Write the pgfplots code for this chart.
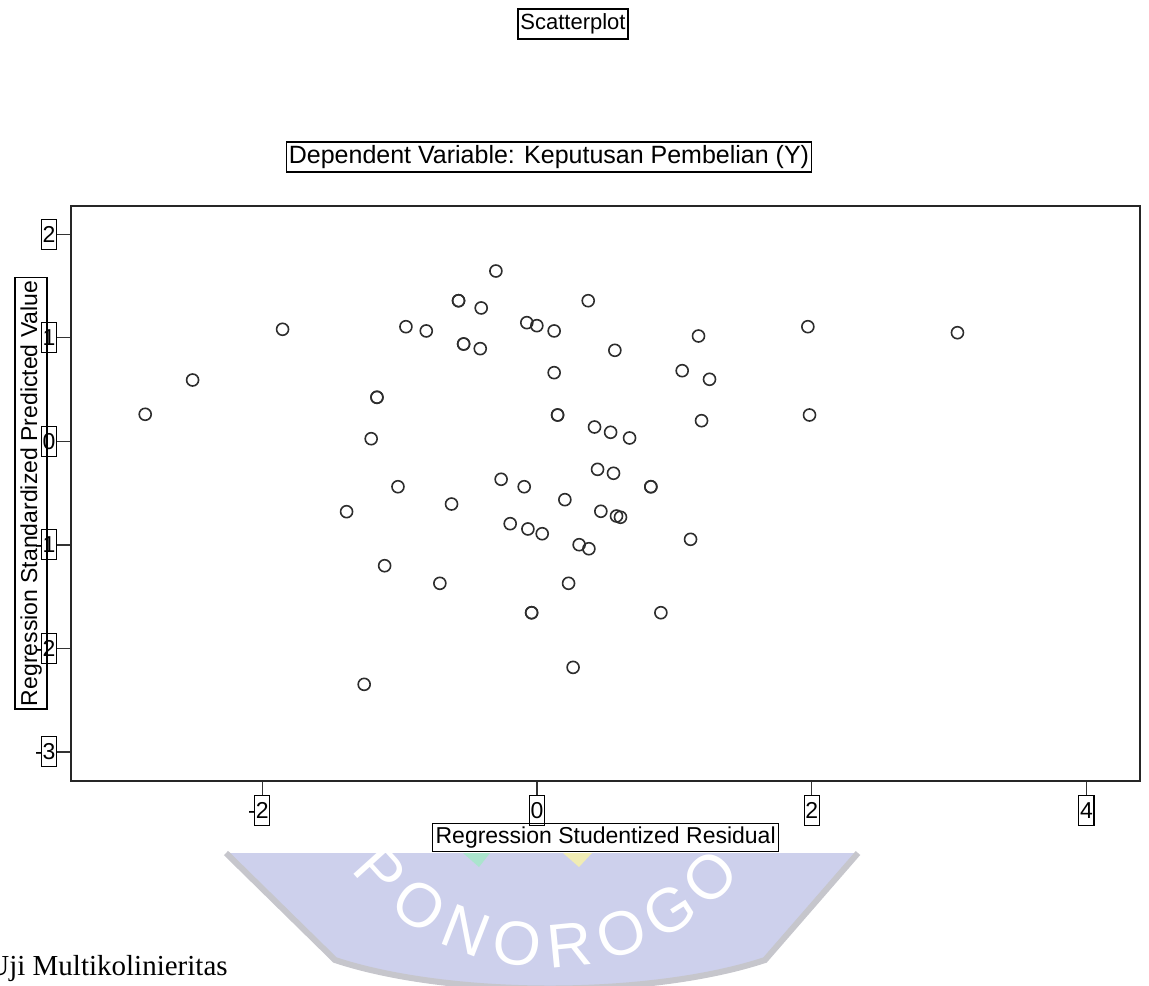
\documentclass[border=0pt]{standalone}
\usepackage{fontspec}
\setmainfont{Liberation Sans}
\newfontfamily\timesfont{Liberation Serif}
\usepackage{pgfplots}
\pgfplotsset{compat=1.18}
\definecolor{wmfill}{RGB}{205,208,236}
\definecolor{wmedge}{RGB}{198,198,204}
\definecolor{mk}{RGB}{45,45,45}
\definecolor{wmgreen}{RGB}{170,228,205}
\definecolor{wmyellow}{RGB}{240,236,180}
\newcommand\chartfont{\fontsize{11.5pt}{13pt}\selectfont}

\pgfplotstableread{
x y
-2.852 0.261
-2.507 0.592
-1.852 1.082
-0.954 1.107
-0.806 1.066
-0.571 1.358
-0.571 1.358
-0.406 1.288
-0.299 1.645
-0.074 1.146
-0.001 1.117
0.125 1.066
-0.534 0.940
-0.534 0.940
-0.413 0.895
0.125 0.663
-1.165 0.425
-1.165 0.425
0.150 0.254
0.150 0.254
-1.207 0.025
-1.012 -0.439
-0.261 -0.367
-0.093 -0.439
0.373 1.358
1.176 1.017
1.972 1.107
0.567 0.879
1.057 0.682
1.256 0.599
0.419 0.138
0.536 0.087
0.674 0.032
1.198 0.199
1.984 0.254
0.441 -0.271
0.557 -0.309
0.829 -0.439
0.829 -0.439
-1.386 -0.680
-0.622 -0.606
0.203 -0.564
-0.195 -0.796
-0.066 -0.847
0.038 -0.893
0.465 -0.676
0.579 -0.722
0.608 -0.734
0.307 -0.999
0.378 -1.038
1.118 -0.947
-1.109 -1.202
-0.707 -1.372
0.230 -1.372
-0.039 -1.656
-0.039 -1.656
0.902 -1.656
0.263 -2.184
-1.258 -2.348
3.061 1.049
}\residtable

\begin{document}
\begin{tikzpicture}
\useasboundingbox (0,0) rectangle (574.5pt,-492.5pt);
\clip (0,0) rectangle (574.5pt,-492.5pt);
% watermark (behind everything)
\begin{scope}[x=0.5pt,y=-0.5pt]
  \fill[wmfill] (226,853) -- (335,960) .. controls (450,998) and (650,998) .. (765,960) -- (858,853) -- cycle;
  \draw[wmedge, line width=3pt] (226,853) -- (335,960) .. controls (450,998) and (650,998) .. (765,960) -- (858,853);
  \fill[wmgreen] (463,853) -- (490,853) -- (479,867) -- cycle;
  \fill[wmyellow] (563,853) -- (592,853) -- (579,867) -- cycle;
  \foreach \l [count=\i] in {P,O,N,O,R,O,G,O} {
    \pgfmathsetmacro\phiang{138-13.4*(\i-1)}
    \pgfmathsetmacro\rot{90-\phiang}
    \node[text=white, font=\fontsize{31pt}{33pt}\selectfont, rotate=\rot, inner sep=0pt]
      at ({548+226*cos(\phiang)}, {720+226*sin(\phiang)}) {\l};
  }
  \node[anchor=base west, inner sep=0pt, font=\timesfont\fontsize{14.5pt}{16pt}\selectfont]
    at (-12,975) {Uji Multikolinieritas};
\end{scope}

\begin{axis}[
  at={(35.65pt,-103pt)}, anchor=north west,
  scale only axis, width=534.35pt, height=287.35pt,
  xmin=-3.39, xmax=4.39, ymin=-3.279, ymax=2.273,
  axis background/.style={fill=white},
  axis line style={line width=1pt, black!85},
  xtick={-2,0,2,4}, xticklabels={\llap{-}2,0,2,4},
  ytick={-3,-2,-1,0,1,2}, yticklabels={\llap{-}3,\llap{-}2,\llap{-}1,0,1,2},
  xtick pos=bottom, ytick pos=left,
  tick align=outside, major tick length=7pt,
  tick style={line width=0.7pt, black!80},
  ticklabel style={font=\chartfont, draw, line width=0.6pt, inner sep=0.6pt,
    minimum width=7.5pt, minimum height=15pt},
  xticklabel style={anchor=north},
  yticklabel style={anchor=east},
  xlabel={Regression Studentized Residual},
  ylabel={Regression Standardized Predicted Value},
  xlabel style={font=\chartfont, draw, line width=0.6pt, inner sep=1.5pt, minimum height=14pt,
    at={(axis description cs:0.5,-0.0736)}, anchor=north},
  ylabel style={font=\chartfont, draw, line width=0.6pt, inner sep=1.5pt, minimum height=16pt,
    at={(axis description cs:-0.0221,0.5)}, rotate=0, anchor=south},
  clip=false,
]
\addplot[only marks, mark=o, mark size=3pt, mark options={line width=0.8pt, draw=mk}] table[x=x,y=y] {\residtable};
\end{axis}

\begin{scope}[x=0.5pt,y=-0.5pt]
  \node[draw, line width=0.6pt, inner sep=1.2pt, minimum height=15pt, font=\fontsize{11pt}{13pt}\selectfont] at (573,24) {Scatterplot};
  \node[draw, line width=0.6pt, inner sep=1.2pt, minimum height=15pt, font=\fontsize{12.5pt}{14pt}\selectfont] at (549,157) {Dependent Variable: Keputusan Pembelian (Y)};
\end{scope}
\end{tikzpicture}
\end{document}
